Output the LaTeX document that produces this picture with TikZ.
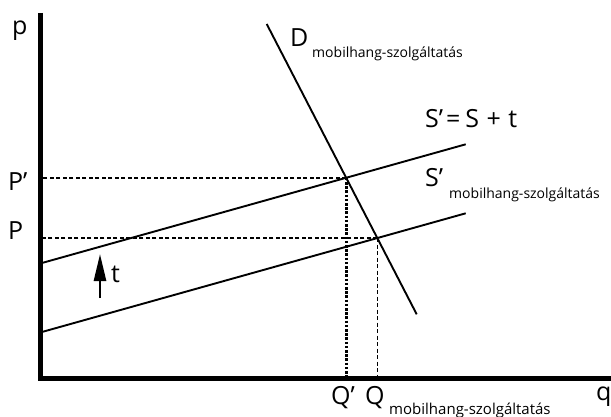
\documentclass[tikz,border=0pt]{standalone}
\usepackage{fontspec}
\setmainfont{Open Sans}
\usetikzlibrary{arrows.meta}
\begin{document}
\begin{tikzpicture}[x=1pt,y=-1pt,
  curve/.style={line width=1.9pt},
  axisline/.style={line width=5pt, line join=miter},
  guide/.style={line width=1.4pt, dash pattern=on 4pt off 2.5pt},
  guidethick/.style={line width=2.6pt, dash pattern=on 2.6pt off 1.6pt},
  lbl/.style={font=\fontsize{25}{25}\selectfont, inner sep=0pt, anchor=base west},
  sub/.style={font=\fontsize{14}{14}\selectfont, inner sep=0pt, anchor=base west}]
\useasboundingbox (0,0) rectangle (611,417);
% axes
\coordinate (ytop) at (40.5,13);
\coordinate (O) at (40.5,378.5);
\coordinate (xend) at (611,378.5);
\draw[axisline] (ytop) -- (O) -- (xend);
% curves
\coordinate (S1a) at (43,262.7);
\coordinate (S1b) at (465.7,144.3);
\coordinate (S0a) at (43,331.7);
\coordinate (S0b) at (465.7,213.3);
\coordinate (Da) at (266.7,24);
\coordinate (Db) at (416.7,314.3);
\draw[curve] (S1a) -- (S1b);
\draw[curve] (S0a) -- (S0b);
\draw[curve] (Da) -- (Db);
\coordinate (E1) at (intersection of S1a--S1b and Da--Db);
\coordinate (E0) at (intersection of S0a--S0b and Da--Db);
% guides
\draw[guide] (E1) -- (O |- E1);
\draw[guide] (E0) -- (O |- E0);
\draw[guidethick] (E1) -- (E1 |- O);
\draw[guide] (E0) -- (E0 |- O);
% tax arrow
\coordinate (tA) at (100,298);
\coordinate (tB) at (100,254);
\draw[line width=2.6pt, -{Triangle[length=27pt 0 0,width=12pt 0 0]}] (tA) -- (tB);
\node[lbl] (tl) at (111,282) {t};
% labels
\node[lbl] (pl) at (12,35) {p};
\node[lbl] (Ppl) at (8,190) {P’};
\node[lbl] (Pl) at (8,240) {P};
\node[lbl] (Dl) at (290,47) {D};
\node[sub] (Dsub) at (312,58) {mobilhang-szolgáltatás};
\node[lbl] (SSt) at (425,128) {S’\hspace{0.12em}=\hspace{0.2em}S\hspace{0.3em}+\hspace{0.3em}t};
\node[lbl] (Spl) at (425,187) {S’};
\node[sub] (Ssub) at (449,199) {mobilhang-szolgáltatás};
\node[lbl] (Qpl) at (331,404) {Q’};
\node[lbl] (Ql) at (365,404) {Q};
\node[sub, font=\fontsize{15}{15}\selectfont] (Qsub) at (389,414) {mobilhang-szolgáltatás};
\node[lbl] (ql) at (596,400) {q};
\end{tikzpicture}
\end{document}
